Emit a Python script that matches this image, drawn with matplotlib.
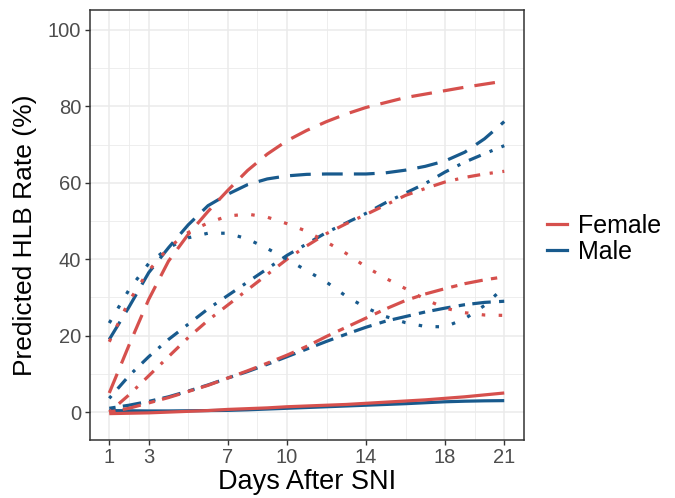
import matplotlib
matplotlib.use("Agg")
import matplotlib.pyplot as plt
from matplotlib.lines import Line2D

days = list(range(1, 22))

female_solid = [-0.4, -0.3, -0.2, 0.0, 0.2, 0.4, 0.7, 0.9, 1.1, 1.4, 1.6, 1.8, 2.0, 2.3, 2.6, 2.9, 3.2, 3.6, 4.0, 4.5, 5.0]
male_solid = [0.4, 0.35, 0.3, 0.3, 0.35, 0.4, 0.45, 0.6, 0.8, 1.0, 1.2, 1.4, 1.6, 1.8, 2.0, 2.2, 2.45, 2.7, 2.85, 2.95, 3.0]

female_twodash = [0.0, 1.0, 2.4, 3.8, 5.4, 7.0, 8.9, 10.8, 12.8, 14.9, 17.2, 19.8, 22.2, 24.6, 27.0, 29.2, 30.9, 32.3, 33.6, 34.6, 35.4]
male_twodash = [1.0, 1.8, 2.8, 4.0, 5.5, 7.1, 8.9, 10.6, 12.5, 14.5, 16.5, 18.5, 20.4, 22.2, 23.8, 25.0, 26.2, 27.2, 28.1, 28.7, 29.0]

female_dotdash = [0.0, 4.5, 9.5, 14.5, 19.5, 24.0, 28.0, 32.0, 36.0, 40.0, 43.5, 46.7, 49.3, 51.7, 54.2, 56.7, 58.5, 60.2, 61.4, 62.3, 63.0]
male_dotdash = [3.6, 9.5, 14.5, 19.0, 23.0, 27.0, 30.5, 34.0, 37.5, 41.0, 44.0, 47.0, 49.5, 52.0, 54.8, 57.3, 59.8, 62.8, 65.4, 67.6, 69.7]

female_longdash = [5.0, 17.5, 29.5, 39.5, 46.5, 52.5, 58.0, 63.2, 67.5, 71.0, 73.7, 76.0, 78.0, 79.7, 81.0, 82.3, 83.2, 84.1, 85.0, 85.8, 86.6]
male_longdash = [19.0, 27.5, 36.5, 43.0, 49.0, 54.0, 57.0, 59.5, 61.0, 61.8, 62.2, 62.3, 62.3, 62.3, 62.6, 63.3, 64.3, 65.7, 68.0, 71.5, 76.0]

female_dotted = [18.4, 29.0, 37.0, 43.0, 47.0, 49.5, 51.3, 51.8, 51.0, 49.3, 47.3, 44.5, 41.5, 38.0, 35.0, 32.3, 29.5, 27.2, 26.0, 25.4, 25.3]
male_dotted = [23.3, 32.0, 38.9, 43.0, 45.6, 46.8, 46.8, 45.3, 42.8, 40.0, 37.0, 34.0, 30.3, 27.3, 25.0, 23.4, 22.4, 22.3, 24.4, 27.9, 32.7]

x_breaks = [1, 3, 7, 10, 14, 18, 21]
y_breaks = [0, 20, 40, 60, 80, 100]
sexes = ["Female", "Male"]

RED = "#D6504D"
BLUE = "#185A8D"
colors = {"Female": RED, "Male": BLUE}

styles = {
    "solid": "-",
    "twodash": (0, (2.0, 2.3, 5.8, 2.6)),
    "dotdash": (0, (1.0, 3.0, 4.0, 3.0)),
    "longdash": (0, (6.5, 3.5)),
    "dotted": (0, (1.1, 4.2)),
}

series = [
    ("solid", male_solid, female_solid),
    ("twodash", male_twodash, female_twodash),
    ("dotdash", male_dotdash, female_dotdash),
    ("longdash", male_longdash, female_longdash),
    ("dotted", male_dotted, female_dotted),
]

plt.rcParams['font.family'] = ['Liberation Sans', 'DejaVu Sans']

fig = plt.figure(figsize=(6.75, 4.98), dpi=100)
ax = fig.add_axes([89.5 / 675, 1 - 440 / 498, (524 - 89.5) / 675, (440 - 10) / 498])

LW = 2.3
for name, m, f in series:
    ax.plot(days, m, color=BLUE, lw=LW, linestyle=styles[name], dash_capstyle="butt", solid_capstyle="butt", zorder=3)
    ax.plot(days, f, color=RED, lw=LW, linestyle=styles[name], dash_capstyle="butt", solid_capstyle="butt", zorder=3)

ax.set_xlim(0, 22)
ax.set_ylim(-7.3, 105.2)
ax.set_xticks(x_breaks)
ax.set_yticks(y_breaks)
ax.set_xticks([2, 5, 8.5, 12, 16, 19.5], minor=True)
ax.set_yticks([10, 30, 50, 70, 90], minor=True)
ax.grid(which="major", color="#EBEBEB", lw=1.1, zorder=0)
ax.grid(which="minor", color="#EBEBEB", lw=0.6, zorder=0)
ax.set_axisbelow(True)
for s in ax.spines.values():
    s.set_color("#333333")
    s.set_linewidth(1.1)
ax.tick_params(which="major", length=3.5, width=1.0, color="#333333", labelcolor="#4D4D4D", labelsize=14.5, pad=2.5)
ax.tick_params(which="minor", length=0)

ax.set_xlabel("Days After SNI", fontsize=19.5, color="black", labelpad=1)
ax.set_ylabel("Predicted HLB Rate (%)", fontsize=19, color="black", labelpad=6)
ax.yaxis.set_label_coords(-0.12, 0.475)

handles = [Line2D([0], [0], color=colors[s], lw=LW) for s in sexes]
fig.legend(handles, sexes, loc="center left", bbox_to_anchor=(547 / 675, 1 - 239 / 498),
           frameon=False, fontsize=18, handlelength=0.8, handletextpad=0.45,
           labelspacing=0.1, borderaxespad=0, borderpad=0)

fig.savefig("out.png", dpi=100)
